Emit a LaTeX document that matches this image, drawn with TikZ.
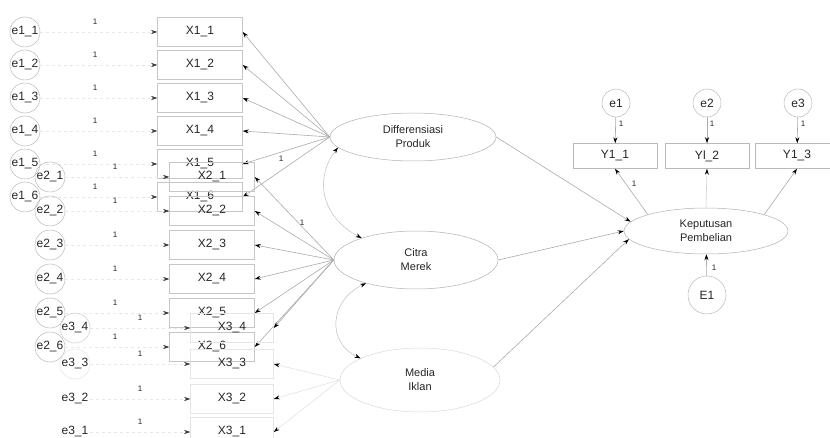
\documentclass[tikz,border=0pt]{standalone}
\usepackage{fontspec}
\setmainfont{Liberation Sans}
\usetikzlibrary{shapes.geometric,arrows.meta}
\begin{document}
\begin{tikzpicture}[x=1pt,y=-1pt,
  every node/.style={font=\fontsize{12}{14}\selectfont, text=black!85},
  obs/.style={draw=gray!45, line width=0.5pt, minimum width=85pt, minimum height=29pt, inner sep=0pt},
  obsfaint/.style={obs, draw=gray!20, minimum width=83pt},
  obsy/.style={obs, draw=gray!55, minimum width=84pt, minimum height=25pt},
  err/.style={circle, draw=gray!55, line width=0.5pt, minimum size=30pt, inner sep=0pt},
  errfaint/.style={err, draw=gray!22},
  errsmall/.style={err, minimum size=28pt},
  lat/.style={ellipse, draw=gray!60, line width=0.5pt, inner sep=0pt, align=center,
    font=\fontsize{11}{14}\selectfont},
  load/.style={draw=gray!65, line width=0.6pt, -{Stealth[black,length=6pt,width=4pt]}},
  loadfaint/.style={load, draw=gray!22},
  errline/.style={draw=gray!18, line width=0.5pt, dash pattern=on 3pt off 3pt, -{Stealth[black!80,length=6pt,width=4pt]}},
  cov/.style={draw=gray!50, line width=0.5pt, {Stealth[black,length=6pt,width=4pt]}-{Stealth[black,length=6pt,width=4pt]}},
  one/.style={font=\fontsize{8}{9}\selectfont, inner sep=1pt}]
\useasboundingbox (0,0) rectangle (830,438);
\fill[white] (0,0) rectangle (830,438);
\clip (0,0) rectangle (830,438);

% ---------- latent variables ----------
\node[lat, minimum width=166pt, minimum height=48pt] (dp) at (413,137) {Differensiasi\\Produk};
\node[lat, minimum width=164pt, minimum height=58pt] (ci) at (416,260) {Citra\\Merek};
\node[lat, draw=gray!30, minimum width=160pt, minimum height=64pt] (mi) at (420,380) {Media\\Iklan};
\node[lat, minimum width=164pt, minimum height=46pt] (kp) at (706,231) {Keputusan\\Pembelian};

% ---------- X1 group ----------
\foreach \k/\yy in {1/32,2/65,3/98,4/131,5/164,6/197}{
  \node[err] (e1\k) at (25,\yy) {e1\_\k};
  \node[obs] (x1\k) at (200,\yy) {X1\_\k};
  \draw[errline] (e1\k) -- (x1\k);
  \node[one] (o1\k) at (95,\yy-10) {1};
  \draw[load] (dp.west) -- (x1\k.east);
}
% ---------- X2 group ----------
\foreach \k/\yy in {1/177,2/211,3/245,4/279,5/313,6/347}{
  \node[err] (e2\k) at (50,\yy) {e2\_\k};
  \node[obs] (x2\k) at (212,\yy) {X2\_\k};
  \draw[errline] (e2\k) -- (x2\k);
  \node[one] (o2\k) at (115,\yy-10) {1};
  \draw[load] (ci.west) -- (x2\k.east);
}
% ---------- X3 group ----------
\node[err, draw=gray!40] (e34) at (75,328) {e3\_4};
\node[errfaint] (e33) at (75,364) {e3\_3};
\node[errfaint, draw=white] (e32) at (75,399) {e3\_2};
\node[errfaint, draw=white] (e31) at (75,432) {e3\_1};
\node[obsfaint] (x34) at (232,328) {X3\_4};
\node[obsfaint] (x33) at (232,364) {X3\_3};
\node[obsfaint] (x32) at (232,399) {X3\_2};
\node[obsfaint] (x31) at (232,432) {X3\_1};
\foreach \k/\yy in {4/328,3/364,2/399,1/432}{
  \draw[errline] (e3\k) -- (x3\k);
  \node[one] (o3\k) at (140,\yy-10) {1};
}
\draw[load] (ci.west) -- (x34.east);
\draw[loadfaint] (mi.west) -- (x33.east);
\draw[loadfaint] (mi.west) -- (x32.east);
\draw[loadfaint] (mi.west) -- (x31.east);

% loading labels
\node[one] (l16) at (281,159) {1};
\node[one] (l21) at (302,223) {1};

% ---------- covariances ----------
\draw[cov] (dp.188) .. controls (316,175) and (318,215) .. (ci.158);
\draw[cov] (ci.205) .. controls (330,300) and (326,342) .. (mi.160);

% ---------- structural paths ----------
\draw[load] (dp.east) -- (kp.173);
\draw[load] (ci.east) -- (kp.180);
\draw[load] (mi.10) -- (kp.186);

% ---------- Y group ----------
\node[errsmall] (ey1) at (616,103) {e1};
\node[errsmall] (ey2) at (707,103) {e2};
\node[errsmall] (ey3) at (798,103) {e3};
\node[obsy] (y1) at (615,156) {Y1\_1};
\node[obsy] (y2) at (707,156) {Yl\_2};
\node[obsy] (y3) at (797,156) {Y1\_3};
\draw[load] (ey1) -- (y1);
\draw[load] (ey2) -- (y2);
\draw[load] (ey3) -- (y3);
\node[one] (oy1) at (621,124) {1};
\node[one] (oy2) at (712,124) {1};
\node[one] (oy3) at (803,124) {1};
\draw[load] (kp.north west) -- (y1.south);
\draw[load, draw=gray!35] (kp.north) -- (y2.south);
\draw[load] (kp.north east) -- (y3.south);
\node[one] (oky) at (634,184) {1};

\node[err, minimum size=38pt] (E1) at (707,295) {E1};
\draw[load] (E1) -- (kp);
\node[one] (oE) at (714,268) {1};
\end{tikzpicture}
\end{document}
